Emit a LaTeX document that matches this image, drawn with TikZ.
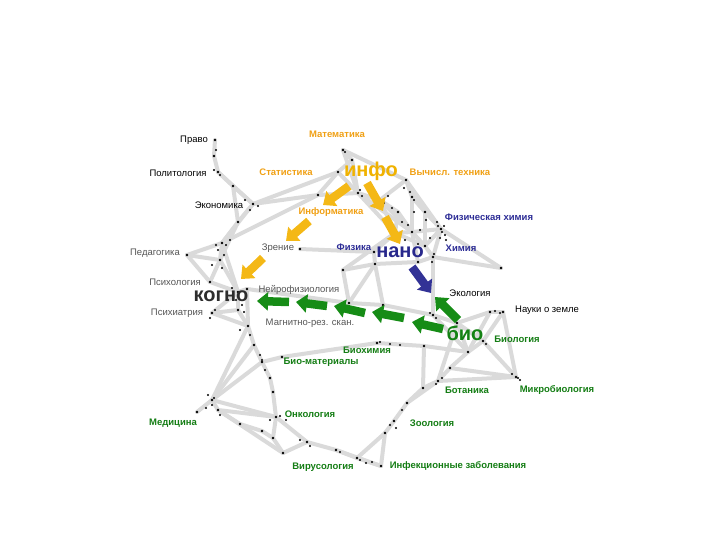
\documentclass[tikz,border=0pt]{standalone}
\usepackage{fontspec}
\setmainfont{Liberation Sans}
\usetikzlibrary{arrows.meta}
\definecolor{edgegray}{RGB}{218,218,218}
\definecolor{orlab}{RGB}{240,160,20}
\definecolor{navylab}{RGB}{45,45,150}
\definecolor{grnlab}{RGB}{20,125,20}
\definecolor{graylab}{RGB}{85,85,85}
\definecolor{yarrow}{RGB}{244,184,22}
\definecolor{garrow}{RGB}{22,140,22}
\definecolor{barrow}{RGB}{50,50,150}
\definecolor{infocol}{RGB}{240,178,0}
\definecolor{nanocol}{RGB}{40,40,140}
\definecolor{kogcol}{RGB}{45,45,45}
\definecolor{biocol}{RGB}{20,130,20}
\tikzset{
  edge/.style={draw=edgegray, line width=4pt, line cap=round},
  lbl/.style={inner sep=0pt, font=\fontsize{9.5}{11}\selectfont, text=black},
  lblg/.style={lbl, text=graylab},
  lblo/.style={inner sep=0pt, font=\fontsize{9.5}{11}\selectfont\bfseries, text=orlab},
  lbln/.style={inner sep=0pt, font=\fontsize{9.5}{11}\selectfont\bfseries, text=navylab},
  lblgr/.style={inner sep=0pt, font=\fontsize{9.5}{11}\selectfont\bfseries, text=grnlab},
  bigword/.style={inner sep=0pt, font=\fontsize{20}{24}\selectfont\bfseries},
  blockarrow/.style={line width=8.5pt, -{Triangle[length=11pt,width=18pt]}},
}
\begin{document}
\begin{tikzpicture}[x=1pt,y=-1pt]
\useasboundingbox (0,0) rectangle (720,540);
% network hubs
\foreach \n/\x/\y in {L1/215/140, L2/214/156, L3/218/172, L4/233/186, L5/253/204, L6/238/222,
  L7/222/243, L8/220/260, L9/187/255, L10/210/282, K1/238/292, K2/247/289, K3/212/313,
  K4/238/310, K5/248/326, K6/254/345, K7/262/362, K8/270/378, BM/282/357, B2/273/392,
  Med/212/400, Med2/197/412, Med3/218/410, Onc/276/417, O2/240/424, O3/262/431, O4/273/438,
  Vir1/283/453, Vir2/307/442, Vir3/336/450, Vir4/357/458, Inf/381/466, Z1/385/433, Z2/394/421,
  Z3/407/403, Z4/423/388, Bot/438/381, Bot2/450/368, Mic/516/377, Bio/483/341, Bio2/468/352,
  NZ/503/312, NZ2/490/312, Eco/433/315, E2/457/323, BC1/377/343, BC2/424/346,
  M/343/150, S/338/172, I1/352/160, I2/358/193, I3/380/200, Infm/318/195, V1/406/180, V2/412/197,
  N1/412/232, N2/425/246, N3/441/229, N4/433/257, N5/395/233, N6/418/262, CR/501/268,
  N7/425/212, N8/398/212,
  Zr/300/249, F1/374/252, T1/343/270, T2/375/264, T3/349/303, T4/383/305}
  \coordinate (\n) at (\x,\y);
% edges
\foreach \a/\b in {L1/L2, L2/L3, L3/L4, L4/L5, L3/L5, L5/L6, L6/L7, L4/L6, L7/L8, L5/L7,
  L9/L7, L9/L8, L8/L10, L10/K1, L8/K1, L7/K1, K1/K2, K1/K3, K1/K4, K3/K4, K4/K5, K2/K5,
  L6/L8, L9/L10, K3/K5,
  K5/K6, K6/K7, K7/K8, K7/BM, K8/B2, B2/Onc, K6/Med, K7/Med, K5/Med, Med/Med2, Med/Med3,
  Med3/O2, Med/Onc, Med3/Onc, O2/O3, O3/O4, Onc/O4, O4/Vir1, Med3/Vir1, Onc/Vir2, Vir1/Vir2,
  Vir2/Vir3, Vir3/Vir4, Vir4/Inf, Vir3/Inf, Z1/Inf, Z1/Vir4, Z1/Z2, Z2/Z3, Z3/Z4, Z4/Bot,
  Z3/Bot, Bot/Bot2, Bot2/Bio2, Bio2/Bio, Bot/Mic, Bot2/Mic, Bio/Mic, NZ/Mic, NZ/Bio, NZ2/NZ,
  E2/NZ2, E2/Bio, E2/Bio2, Eco/E2, BC1/BC2, BC2/Bio2, BC2/Z4, BM/BC1, T3/T4, T4/Eco, K2/T3,
  NZ2/Bio2, E2/Bot, Eco/Bio2,
  T1/T2, T1/T3, T2/T4, T2/T3, T1/N5, T2/N6, N4/Eco, N4/CR, N3/CR, N2/N4, N1/N2, N2/N3,
  N1/N5, N1/N6, N6/N4, N3/N4, V1/V2, V2/N1, V2/N3, V1/N3, I3/V1, I2/I3, I1/I2, M/I1, M/V1,
  I2/N1, V2/N7, N7/N3, N7/N2, N8/N1, I3/N8, N8/N5, V1/N7, N1/N3, N5/N2, M/I2,
  S/I1, S/I2, Infm/I2, S/Infm, L5/S, L5/Infm, L7/Infm, Zr/F1, F1/N5, F1/T2, I3/N5, I2/N5, I3/N1}
  \draw[edge] (\a) -- (\b);
% dots
\foreach \p in {L1,L2,L3,L4,L5,L6,L7,L8,L9,L10,K1,K2,K3,K4,K5,K6,K7,K8,BM,B2,Med,Med2,Med3,
  Onc,O2,O3,O4,Vir1,Vir2,Vir3,Vir4,Inf,Z1,Z2,Z3,Z4,Bot,Bot2,Mic,Bio,Bio2,NZ,NZ2,Eco,E2,BC1,BC2,
  M,S,I1,I2,I3,Infm,V1,V2,N1,N2,N3,N4,N5,N6,N7,N8,CR,Zr,F1,T1,T2,T3,T4}
  \fill (\p) circle (1.3);
\foreach \x/\y in {216/150,220/175,214/170,245/200,250/210,258/206,226/245,218/250,224/255,
  230/240,222/268,236/300,242/305,246/296,210/318,250/335,260/355,265/370,208/395,214/398,
  212/405,206/408,220/415,270/420,280/416,286/420,300/440,310/446,340/452,360/460,366/463,
  390/425,402/410,436/384,442/378,512/374,518/378,520/380,500/313,495/311,486/344,480/338,
  430/313,436/318,380/342,390/344,400/345,345/152,360/190,362/196,384/203,404/188,410/192,
  414/200,408/225,420/230,430/238,438/226,442/232,445/235,446/240,434/254,432/262,420/255,
  405/240,426/220,414/212,437/222,440/238,444/226,418/244,402/222,392/208,388/196,
  228/300,232/288,244/312,240/330,215/310,212/265,216/245,396/428,372/462,262/360}
  \fill (\x,\y) circle (1.1);
% labels
\node[lbl]   (pravo) at (194,140) {Право};
\node[lbl]   (polit) at (178,173) {Политология};
\node[lbl]   (econ)  at (219,205) {Экономика};
\node[lblg]  (ped)   at (155,253) {Педагогика};
\node[lblg]  (zren)  at (278,248) {Зрение};
\node[lblg]  (psyh)  at (175,282) {Психология};
\node[lblg]  (neyro) at (299,290) {Нейрофизиология};
\node[lblg]  (psyi)  at (177,313) {Психиатрия};
\node[lblg]  (mrt)   at (310,323) {Магнитно-рез. скан.};
\node[lblo]  (mat)   at (337,134) {Математика};
\node[lblo]  (stat)  at (286,172) {Статистика};
\node[lblo]  (vych)  at (450,172) {Вычисл. техника};
\node[lblo]  (infm)  at (331,212) {Информатика};
\node[lbln]  (fizh)  at (489,217) {Физическая химия};
\node[lbln]  (fiz)   at (354,247) {Физика};
\node[lbln]  (him)   at (461,248) {Химия};
\node[lbl]   (ekol)  at (470,293) {Экология};
\node[lbl]   (nauk)  at (547,310) {Науки о земле};
\node[lblgr] (biol)  at (517,339) {Биология};
\node[lblgr] (bioh)  at (367,350) {Биохимия};
\node[lblgr] (biom)  at (321,362) {Био-материалы};
\node[lblgr] (bot)   at (467,390) {Ботаника};
\node[lblgr] (mikr)  at (557,390) {Микробиология};
\node[lblgr] (onk)   at (310,414) {Онкология};
\node[lblgr] (med)   at (173,423) {Медицина};
\node[lblgr] (zool)  at (432,423) {Зоология};
\node[lblgr] (vir)   at (323,467) {Вирусология};
\node[lblgr] (infz)  at (458,466) {Инфекционные заболевания};
% big words
\node[bigword, text=infocol] (info)  at (371,171) {инфо};
\node[bigword, text=nanocol] (nano)  at (400,252) {нано};
\node[bigword, text=kogcol]  (kogno) at (221,296) {когно};
\node[bigword, text=biocol]  (bio)   at (465,333) {био};
% arrows
\foreach \n/\x/\y in {Y1a/349/186, Y1b/323/205, Y2a/309/221, Y2b/286/241, Y3a/263/258, Y3b/241/279,
  Y4a/367/183, Y4b/383/211, Y5a/385/217, Y5b/400/244, Ba/412/267, Bb/431/293,
  G0a/458/320, G0b/435/297, G1a/443/329, G1b/412/322, G2a/404/318, G2b/372/312,
  G3a/365/313, G3b/334/306, G4a/327/306, G4b/296/302, G5a/289/302, G5b/257/301}
  \coordinate (\n) at (\x,\y);
\foreach \a/\b in {Y1a/Y1b, Y2a/Y2b, Y3a/Y3b, Y4a/Y4b, Y5a/Y5b}
  \draw[blockarrow, yarrow] (\a) -- (\b);
\draw[blockarrow, barrow] (Ba) -- (Bb);
\foreach \a/\b in {G0a/G0b, G1a/G1b, G2a/G2b, G3a/G3b, G4a/G4b, G5a/G5b}
  \draw[blockarrow, garrow] (\a) -- (\b);
\end{tikzpicture}
\end{document}
